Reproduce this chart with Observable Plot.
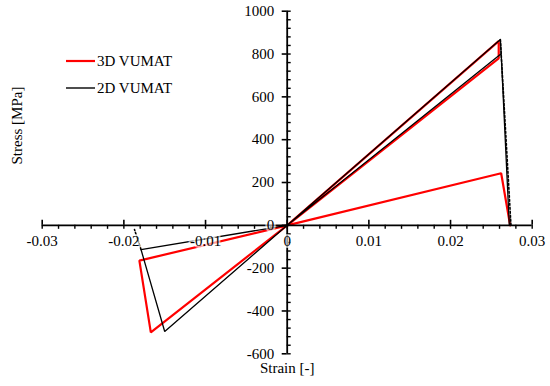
<!DOCTYPE html>
<html><head><meta charset="utf-8">
<script src="https://cdn.jsdelivr.net/npm/d3@7"></script>
<script src="https://cdn.jsdelivr.net/npm/@observablehq/plot@0.6"></script>
<style>
body{margin:0;background:#fff;}
#wrap{position:relative;width:550px;height:386px;font-family:"Liberation Serif","Times New Roman",serif;}
#legend{position:absolute;left:0;top:0;}
</style></head><body><div id="wrap"></div>
<script>
// Series names / colors
const seriesNames = ["3D VUMAT", "2D VUMAT"];
const seriesColors = ["#ff0000", "#000000"];

// 3D VUMAT (red) path
const strain3D = [0, 0.0259, 0.0259, 0, -0.0167, -0.0181, 0, 0.0262, 0.0273];
const stress3D = [0, 860, 780, 0, -500, -165, 0, 243, 0];

// 2D VUMAT (black) path
const strain2D = [0.0272, 0.0262, 0.0261, 0, -0.0150, -0.0179, 0, 0.0262];
const stress2D = [0, 801, 868, 0, -496, -113, 0, 801];

// dotted black segments
const strainDot = [0.0261, 0.0274, -0.0179, -0.0187];
const stressDot = [868, 0, -113, -20];
const segDot = [1, 1, 2, 2];

// axis ticks
const xTicks = [-0.03, -0.02, -0.01, 0, 0.01, 0.02, 0.03];
const xTickLabels = ["-0.03", "-0.02", "-0.01", "0", "0.01", "0.02", "0.03"];
const yTicks = [-600, -400, -200, 0, 200, 400, 600, 800, 1000];
const yTickLabels = ["-600", "-400", "-200", "0", "200", "400", "600", "800", "1000"];
const xMinorStep = 0.002;
const yMinorStep = 40;

const xMinor = d3.range(-15, 16).map(k => k * xMinorStep);
const yMinor = d3.range(-15, 26).map(k => k * yMinorStep);

const red = strain3D.map((s, i) => ({s, v: stress3D[i]}));
const blk = strain2D.map((s, i) => ({s, v: stress2D[i]}));
const dot = strainDot.map((s, i) => ({s, v: stressDot[i], g: segDot[i]}));

const font = "'Liberation Serif', 'Times New Roman', serif";
const plot = Plot.plot({
  width: 550, height: 386,
  marginTop: 10.7, marginBottom: 32.7, marginLeft: 41.7, marginRight: 18.3,
  x: {domain: [-0.03, 0.03], axis: null},
  y: {domain: [-600, 1000], axis: null},
  style: {fontFamily: font, fontSize: "15px", background: "white", color: "black"},
  marks: [
    Plot.line(red, {x: "s", y: "v", stroke: seriesColors[0], strokeWidth: 2.2, strokeLinejoin: "miter"}),
    Plot.line(blk, {x: "s", y: "v", stroke: seriesColors[1], strokeWidth: 1.3, strokeLinejoin: "miter"}),
    Plot.line(dot, {x: "s", y: "v", z: "g", stroke: "black", strokeWidth: 1.6, strokeDasharray: "2,2"}),
    Plot.ruleY([0], {x1: -0.03, x2: 0.03, stroke: "black", strokeWidth: 1.8}),
    Plot.ruleX([0], {y1: -600, y2: 1000, stroke: "black", strokeWidth: 1.8}),
    Plot.ruleX(xMinor, {x: d => d, y1: 0, y2: 0, insetTop: 0, insetBottom: -4, stroke: "black", strokeWidth: 1.4}),
    Plot.ruleX(xTicks, {x: d => d, y1: 0, y2: 0, insetTop: -5, insetBottom: 0, stroke: "black", strokeWidth: 1.6}),
    Plot.ruleY(yMinor, {y: d => d, x1: 0, x2: 0, insetLeft: 0, insetRight: -4, stroke: "black", strokeWidth: 1.4}),
    Plot.ruleY(yTicks, {y: d => d, x1: 0, x2: 0, insetLeft: -5, insetRight: 0, stroke: "black", strokeWidth: 1.6}),
    Plot.text(xTicks, {x: d => d, y: 0, text: (d, i) => xTickLabels[i], dy: 16, fontFamily: font, fontSize: 15,
      fill: "black", stroke: "white", strokeWidth: 4, strokeOpacity: 0.6}),
    Plot.text(yTicks, {x: 0, y: d => d, text: (d, i) => yTickLabels[i], textAnchor: "end", dx: -13, fontFamily: font, fontSize: 15,
      fill: "black", stroke: "white", strokeWidth: 4, strokeOpacity: 0.6}),
    Plot.text(["Stress [MPa]"], {frameAnchor: "left", rotate: -90, dx: -24.7, dy: -18, fontFamily: font, fontSize: 15, fill: "black"}),
    Plot.text(["Strain [-]"], {frameAnchor: "bottom", dy: 19.5, fontFamily: font, fontSize: 15, fill: "black"})
  ]
});
const wrap = document.getElementById("wrap");
wrap.appendChild(plot);

// legend overlay
const ns = "http://www.w3.org/2000/svg";
const lg = document.createElementNS(ns, "svg");
lg.setAttribute("id", "legend");
lg.setAttribute("width", 220);
lg.setAttribute("height", 110);
seriesNames.forEach((name, i) => {
  const y = 61 + i * 27;
  const ln = document.createElementNS(ns, "line");
  ln.setAttribute("x1", 66); ln.setAttribute("x2", 95);
  ln.setAttribute("y1", y); ln.setAttribute("y2", y);
  ln.setAttribute("stroke", seriesColors[i]);
  ln.setAttribute("stroke-width", i === 0 ? 2.2 : 1.4);
  lg.appendChild(ln);
  const tx = document.createElementNS(ns, "text");
  tx.setAttribute("x", 97); tx.setAttribute("y", y + 5.3);
  tx.setAttribute("font-family", font);
  tx.setAttribute("font-size", 15);
  tx.textContent = name;
  lg.appendChild(tx);
});
wrap.appendChild(lg);
</script></body></html>
